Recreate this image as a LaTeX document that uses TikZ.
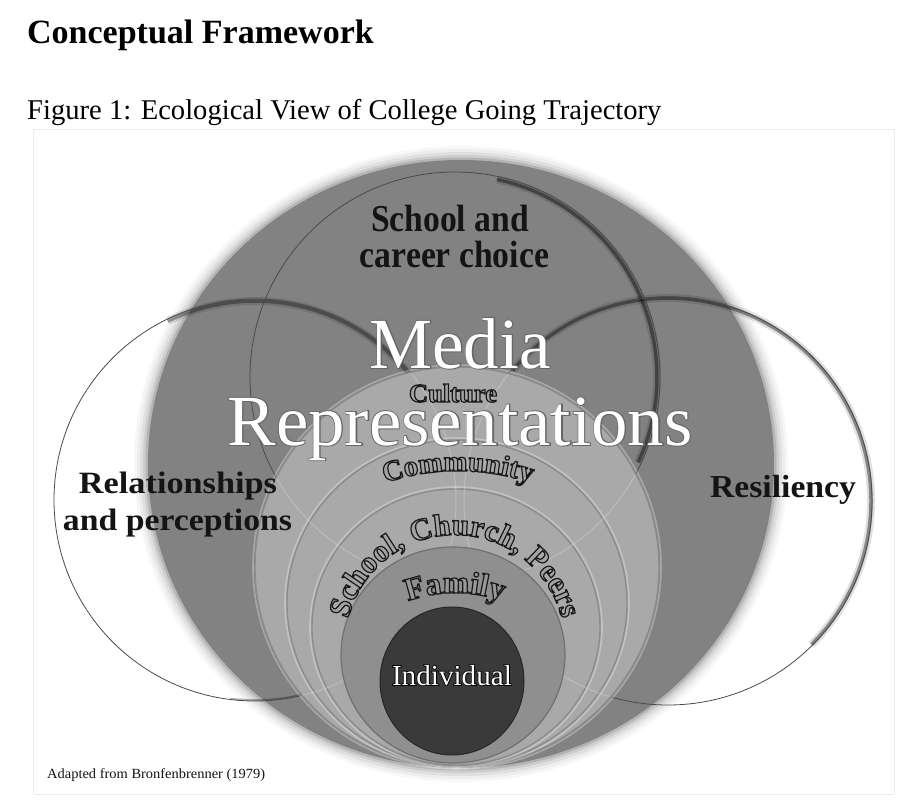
\documentclass[tikz,border=0pt]{standalone}
\usepackage{fontspec}
\setmainfont{Liberation Serif}
\usepackage{graphicx}
\usetikzlibrary{decorations.text,calc}

\definecolor{bigc}{HTML}{828282}
\definecolor{lightc}{HTML}{A9A9A9}
\definecolor{ringedge}{HTML}{8C8C8C}
\definecolor{famc}{HTML}{8F8F8F}
\definecolor{indc}{HTML}{3A3A3A}
\definecolor{olfill}{HTML}{A3A3A3}
\definecolor{olfillb}{HTML}{9A9A9A}
\definecolor{framec}{HTML}{ECECEC}
\definecolor{thinc}{HTML}{4A4A4A}
\definecolor{blk}{HTML}{141414}

\newcommand\wfit[2]{\resizebox{#1pt}{\height}{#2}}
% outlined text: fill and stroke the glyphs (#1 line width, #2 fill grey, #3 stroke grey)
\newcommand\olon[3]{\special{pdf:literal direct q 2 Tr #1 w #2 g #3 G}}
\newcommand\oloff{\special{pdf:literal direct Q}}
\newcommand\olcol[2]{\special{pdf:literal direct #1 g #2 G}}
\newcommand\arcfont[1]{\fontsize{#1}{#1}\selectfont\bfseries}

\begin{document}
\begin{tikzpicture}[x=1pt,y=-1pt,
  lbl/.style={inner sep=0pt, anchor=base},
  thin outline/.style={draw=thinc, line width=0.8pt},
  shadhard/.style={draw=black, opacity=0.33, line width=3.5pt},
  shadsoft/.style={draw=black, opacity=0.12, line width=8pt},
  ring/.style={fill=lightc, draw=ringedge, line width=1.4pt},
  rim/.style={draw=white, opacity=0.3, line width=1.6pt},
  bigtext/.style={lbl, text=blk}]
\useasboundingbox (0,0) rectangle (922,800);
\fill[white] (0,0) rectangle (922,800);

% headings
\node[anchor=base west, inner sep=0pt, font=\fontsize{34}{34}\selectfont\bfseries] (title) at (27,44) {Conceptual Framework};
\node[anchor=base west, inner sep=0pt, font=\fontsize{28.6}{30}\selectfont] (figcap) at (27,120) {Figure 1: Ecological View of College Going Trajectory};

% image frame
\draw[framec, line width=1pt] (33,129) rectangle (894,794);

% big circle with soft light rim
\foreach \i/\op in {14/0.03,11/0.04,8/0.06,5/0.08,2.5/0.12}{%
  \pgfmathsetmacro\rxx{313+\i}\pgfmathsetmacro\ryy{304+\i}%
  \fill[black, opacity=\op] (461,464) ellipse [x radius=\rxx, y radius=\ryy];}
\fill[bigc] (461,464) ellipse [x radius=313, y radius=304];

% shadows of the three overlapping circles
\draw[shadsoft] (255,500) ++(-116:199) arc[start angle=-116, end angle=-24, radius=199];
\draw[shadhard] (255,500) ++(-116:199) arc[start angle=-116, end angle=-24, radius=199];
\draw[draw=black, opacity=0.3, line width=1.6pt] (255,500) ++(97:200) arc[start angle=97, end angle=62, radius=200];
\draw[shadsoft] (668,501) ++(-140:203) arc[start angle=-140, end angle=45, radius=203];
\draw[shadhard, opacity=0.4] (668,501) ++(-140:203) arc[start angle=-140, end angle=45, radius=203];
\draw[shadsoft] (455,377) ++(-78:202) arc[start angle=-78, end angle=25, radius=202];
\draw[shadhard, opacity=0.42] (455,377) ++(-78:202) arc[start angle=-78, end angle=25, radius=202];

% thin outlines
\draw[thin outline] (255,500) circle[radius=201];
\draw[thin outline] (668,501) circle[radius=204];
\draw[thin outline] (455,377) circle[radius=205];

% nested ecological circles
\draw[rim] (457,567) ellipse [x radius=204, y radius=202];
\filldraw[ring] (457,567) ellipse [x radius=202, y radius=200];
\draw[rim] (457,603) ellipse [x radius=172, y radius=165];
\filldraw[ring] (457,603) ellipse [x radius=170, y radius=163];
\draw[rim] (456,627) ellipse [x radius=146, y radius=140];
\filldraw[ring] (456,627) ellipse [x radius=144, y radius=138];
\begin{scope}
  \clip (457,567) ellipse [x radius=201, y radius=199];
  \draw[white, opacity=0.22, line width=1pt] (255,500) circle[radius=201] (668,501) circle[radius=204] (455,377) circle[radius=205];
\end{scope}
\filldraw[fill=famc, draw=ringedge!80!black, line width=1.2pt] (453,655) ellipse [x radius=112, y radius=108];
\filldraw[fill=indc, draw=black!85, line width=1pt] (452,681) ellipse [x radius=72, y radius=74];

% labels of the overlapping circles
\node[bigtext, font=\fontsize{38}{38}\selectfont\bfseries] (sc1) at (450,231) {\wfit{158}{School and}};
\node[bigtext, font=\fontsize{38}{38}\selectfont\bfseries] (sc2) at (454.5,267) {\wfit{189}{career choice}};
\node[bigtext, font=\fontsize{31}{31}\selectfont\bfseries] (rel1) at (178,493) {\wfit{198}{Relationships}};
\node[bigtext, font=\fontsize{31}{31}\selectfont\bfseries] (rel2) at (177.5,530) {\wfit{229}{and perceptions}};
\node[bigtext, font=\fontsize{32}{32}\selectfont\bfseries] (resil) at (783,497) {\wfit{146}{Resiliency}};

% media representations (white glyphs with a grey edge: stroked copy below, plain white on top)
\node[lbl, font=\fontsize{72}{72}\selectfont] (media-edge) at (460,368) {\olon{1.8}{0.4}{0.4}\wfit{181}{Media}\oloff};
\node[lbl, font=\fontsize{72}{72}\selectfont, text=white] (media) at (460,368) {\wfit{181}{Media}};
\node[lbl, font=\fontsize{72}{72}\selectfont] (repr-edge) at (460,445) {\olon{1.8}{0.4}{0.4}\wfit{465}{Representations}\oloff};
\node[lbl, font=\fontsize{72}{72}\selectfont, text=white] (repr) at (460,445) {\wfit{465}{Representations}};

% ecological level labels (hollow-looking glyphs)
\node[lbl, font=\fontsize{26}{26}\selectfont\bfseries] (cult) at (453,402) {\olon{1.2}{0.64}{0.1}\wfit{88}{Culture}\oloff};
\olon{1.2}{0.64}{0.1}
\path[decorate, decoration={text along path, text align=center, text color=olfill,
    text={|\arcfont{29}\olcol{0.64}{0.1}|Community}}]
  (458,700) ++(-118:229) arc[start angle=-118, end angle=-62, radius=229];
\path[decorate, decoration={text along path, text align=center, text color=olfill,
    text={|\arcfont{31}\olcol{0.64}{0.1}|School, Church, Peers}}]
  (455,645) ++(-178:110) arc[start angle=-178, end angle=-2, radius=110];
\path[decorate, decoration={text along path, text align=center, text color=olfillb,
    text={|\arcfont{32}\olcol{0.6}{0.1}|Family}}]
  (455,733) ++(-125:140) arc[start angle=-125, end angle=-55, radius=140];
\oloff
\node[lbl, font=\fontsize{29}{29}\selectfont] (indiv-edge) at (452,685) {\olon{1.6}{0}{0}\wfit{120}{Individual}\oloff};
\node[lbl, font=\fontsize{29}{29}\selectfont, text=white] (indiv) at (452,685) {\wfit{120}{Individual}};

% source note
\node[anchor=base west, inner sep=0pt, font=\fontsize{14}{14}\selectfont, text=blk] (adapted) at (47,778) {\wfit{218}{Adapted from Bronfenbrenner (1979)}};
\end{tikzpicture}
\end{document}
